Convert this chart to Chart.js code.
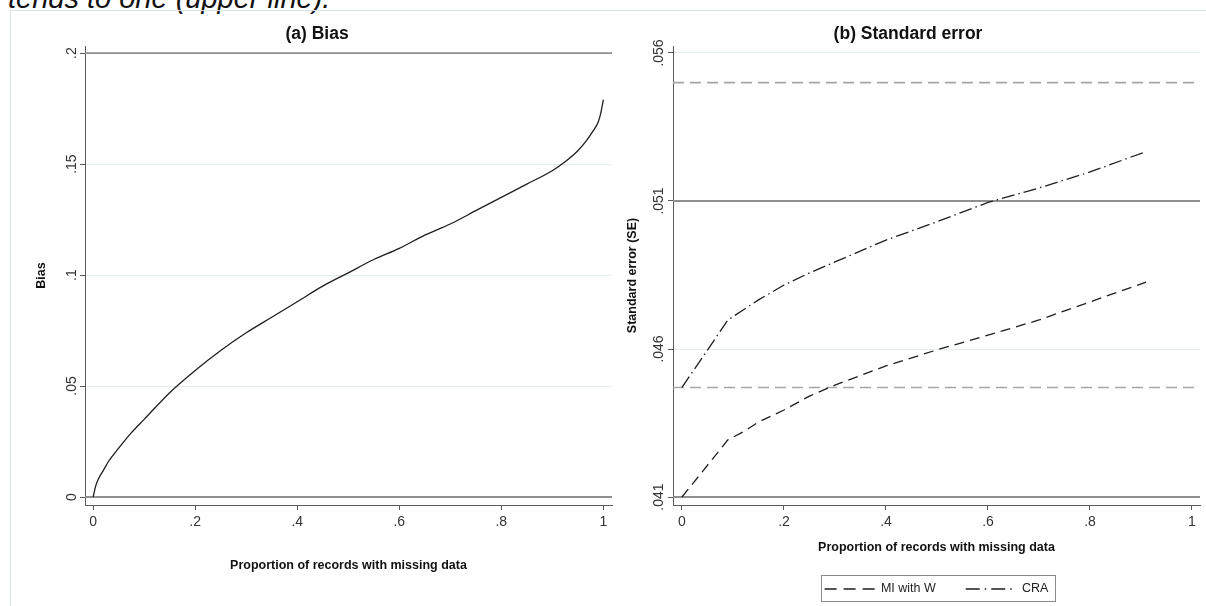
<!DOCTYPE html>
<html lang="en">
<head>
<meta charset="UTF-8" />
<title>Bias and standard error by proportion of missing records</title>
<script src="https://cdn.jsdelivr.net/npm/chart.js@4.4.0/dist/chart.umd.min.js"></script>
<style>
*{box-sizing:border-box}
html,body{margin:0;padding:0;background:#fff;overflow:hidden;width:1206px;height:606px}
body{position:relative;font-family:"Liberation Sans",Arial,sans-serif}
#caption{position:absolute;left:8px;top:-17px;font-size:29px;line-height:30px;font-style:italic;color:#111;white-space:nowrap}
#frame{position:absolute;left:10px;top:10px;width:1300px;height:700px;border:1px solid #d6e6e8}
canvas{position:absolute;top:10px}
#biasChart{left:10px}
#seChart{left:610px}
</style>
</head>
<body>
<div id="caption">tends to one (upper line).</div>
<div id="frame"></div>
<canvas id="biasChart" width="614" height="596"></canvas>
<canvas id="seChart" width="596" height="596"></canvas>

<script>
/* ---------- data ---------- */
const xTicks      = [0, 0.2, 0.4, 0.6, 0.8, 1];
const xTickLabels = ['0', '.2', '.4', '.6', '.8', '1'];

// (a) Bias
const biasX = [0, 0.005, 0.01, 0.02, 0.03, 0.05, 0.075, 0.1, 0.15, 0.2, 0.25, 0.3, 0.35, 0.4, 0.45, 0.5,
               0.55, 0.6, 0.65, 0.7, 0.75, 0.8, 0.85, 0.9, 0.925, 0.95, 0.965, 0.98, 0.99, 0.995, 1];
const biasY = [0, 0.005, 0.008, 0.012, 0.016, 0.022, 0.029, 0.035, 0.047, 0.057, 0.066, 0.074, 0.081, 0.088, 0.095, 0.101,
               0.107, 0.112, 0.118, 0.123, 0.129, 0.135, 0.141, 0.147, 0.151, 0.156, 0.160, 0.165, 0.169, 0.173, 0.179];
const biasYTicks  = [0, 0.05, 0.1, 0.15, 0.2];
const biasYLabels = ['0', '.05', '.1', '.15', '.2'];
const biasRefSolid = [0, 0.2];

// (b) Standard error
const seX   = [0, 0.09, 0.12, 0.15, 0.2, 0.25, 0.3, 0.4, 0.5, 0.6, 0.7, 0.8, 0.91];
const seMI  = [0.0410, 0.04293, 0.04320, 0.04353, 0.04394, 0.04441, 0.04478, 0.04543, 0.04597, 0.04647, 0.04698, 0.04759, 0.04826];
const seCRA = [0.0447, 0.04698, 0.04732, 0.04766, 0.04816, 0.04857, 0.04894, 0.04968, 0.05030, 0.05095, 0.05144, 0.05198, 0.05267];
const seYTicks  = [0.041, 0.046, 0.051, 0.056];
const seYLabels = ['.041', '.046', '.051', '.056'];
const seRefSolid  = [0.041, 0.051];
const seRefDashed = [0.0447, 0.055];
const seLegend = ['MI with W', 'CRA'];

/* ---------- shared styling ---------- */
const FONT = '"Liberation Sans", Arial, sans-serif';
Chart.defaults.font.family = FONT;
Chart.defaults.color = '#222';
const AXIS = '#5a5a5a';
const INK  = '#1e1e1e';

// horizontal reference lines (Stata yline) drawn through the y scale
const refLines = {
  id: 'refLines',
  beforeDatasetsDraw(chart, args, o) {
    const {ctx, chartArea: {left, right}, scales: {y}} = chart;
    const draw = (vals, color, dash, w) => vals.forEach(v => {
      const py = y.getPixelForValue(v);
      ctx.save();
      ctx.strokeStyle = color; ctx.lineWidth = w; ctx.setLineDash(dash);
      ctx.beginPath(); ctx.moveTo(left, py); ctx.lineTo(right, py); ctx.stroke();
      ctx.restore();
    });
    draw(o.solid || [], '#8f8f8f', [], 1.8);
    draw(o.dashed || [], '#a6a6a6', [11, 6], 1.6);
  }
};

// thin frame round the legend, like Stata's legend box
const legendBox = {
  id: 'legendBox',
  afterDraw(chart) {
    const lg = chart.legend;
    if (!lg || !lg.options.display || !lg.legendHitBoxes.length) return;
    const hb = lg.legendHitBoxes;
    const l = Math.min(...hb.map(h => h.left)) - 4;
    const r = Math.max(...hb.map(h => h.left + h.width)) + 6;
    const t = hb[0].top - 8, b = hb[0].top + hb[0].height + 5;
    const ctx = chart.ctx;
    ctx.save();
    ctx.strokeStyle = '#8a8a8a'; ctx.lineWidth = 1;
    ctx.strokeRect(Math.round(l) + .5, Math.round(t) + .5, Math.round(r - l), Math.round(b - t));
    ctx.restore();
  }
};

function xScale(min, max, h, titlePad) {
  return {
    type: 'linear', min, max,
    afterBuildTicks: s => { s.ticks = xTicks.map(v => ({value: v})); },
    afterFit: s => { s.height = h; },
    ticks: {callback: (v, i) => xTickLabels[i], font: {size: 14}, color: '#333', padding: 4, maxRotation: 0, autoSkip: false},
    grid: {drawOnChartArea: false, tickLength: 5, tickColor: AXIS},
    border: {color: AXIS, width: 1},
    title: {display: true, text: 'Proportion of records with missing data', color: '#111',
            font: {size: 12.5, weight: 'bold'}, padding: {top: 0, bottom: titlePad}}
  };
}

function yScale(min, max, ticks, labels, w, tickPad, text, titlePad) {
  return {
    type: 'linear', min, max,
    afterBuildTicks: s => { s.ticks = ticks.map(v => ({value: v})); },
    afterFit: s => { s.width = w; },
    ticks: {callback: (v, i) => labels[i], font: {size: 14}, color: '#333', padding: tickPad,
            minRotation: 90, maxRotation: 90, crossAlign: 'center', autoSkip: false},
    grid: {color: '#e3edf1', lineWidth: 1, tickLength: 5, tickColor: AXIS},
    border: {color: AXIS, width: 1},
    title: {display: true, text, color: '#111', font: {size: 12.5, weight: 'bold'}, padding: {top: titlePad, bottom: 0}}
  };
}

function chartTitle(text) {
  return {display: true, text, color: '#111', font: {size: 17.5, weight: 'bold'}, padding: {top: 13.2, bottom: 1.8}};
}

const line = (label, xs, ys, dash, keyDash) => ({
  label, data: xs.map((x, i) => ({x, y: ys[i]})),
  borderColor: INK, backgroundColor: INK, borderWidth: 1.3, borderDash: dash, keyDash: keyDash || dash,
  pointRadius: 0, pointStyle: 'line', fill: false
});

// legend keys: keep each series' dash pattern
const dashedLabels = chart => Chart.defaults.plugins.legend.labels.generateLabels(chart).map(l => {
  const ds = chart.data.datasets[l.datasetIndex];
  return {...l, lineDash: ds.keyDash, lineWidth: 1.3, strokeStyle: INK, fillStyle: INK};
});

/* ---------- (a) Bias ---------- */
new Chart(document.getElementById('biasChart'), {
  type: 'line',
  data: {datasets: [{...line('Bias', biasX, biasY, []), cubicInterpolationMode: 'monotone'}]},
  options: {
    responsive: false, animation: false, devicePixelRatio: 1,
    layout: {padding: {left: 12, right: 12, top: 0, bottom: 0}},
    scales: {
      x: xScale(-0.016, 1.017, 101, 32.5),
      y: yScale(-0.0036, 0.2032, biasYTicks, biasYLabels, 63, -1.7, 'Bias', 12.5)
    },
    plugins: {
      title: chartTitle('(a) Bias'),
      legend: {display: false},
      tooltip: {enabled: false},
      refLines: {solid: biasRefSolid}
    }
  },
  plugins: [refLines]
});

/* ---------- (b) Standard error ---------- */
new Chart(document.getElementById('seChart'), {
  type: 'line',
  data: {datasets: [
    {...line(seLegend[0], seX, seMI, [10, 6], [12, 7]), tension: 0},
    {...line(seLegend[1], seX, seCRA, [13, 4, 1.5, 4], [14, 5, 1.5, 5]), tension: 0}
  ]},
  options: {
    responsive: false, animation: false, devicePixelRatio: 1,
    layout: {padding: {left: 6, right: 6, top: 0, bottom: 0.75}},
    scales: {
      x: xScale(-0.0176, 1.0157, 47.75, -2.75),
      y: yScale(0.04073, 0.056236, seYTicks, seYLabels, 57, -5.1, 'Standard error (SE)', 9.5)
    },
    plugins: {
      title: chartTitle('(b) Standard error'),
      legend: {display: true, position: 'bottom', fullSize: false, align: 'center',
               labels: {usePointStyle: true, pointStyleWidth: 50, boxHeight: 12.5, padding: 30,
                        color: '#222', font: {size: 12.5}, generateLabels: dashedLabels}},
      tooltip: {enabled: false},
      refLines: {solid: seRefSolid, dashed: seRefDashed}
    }
  },
  plugins: [refLines, legendBox]
});
</script>
</body>
</html>
